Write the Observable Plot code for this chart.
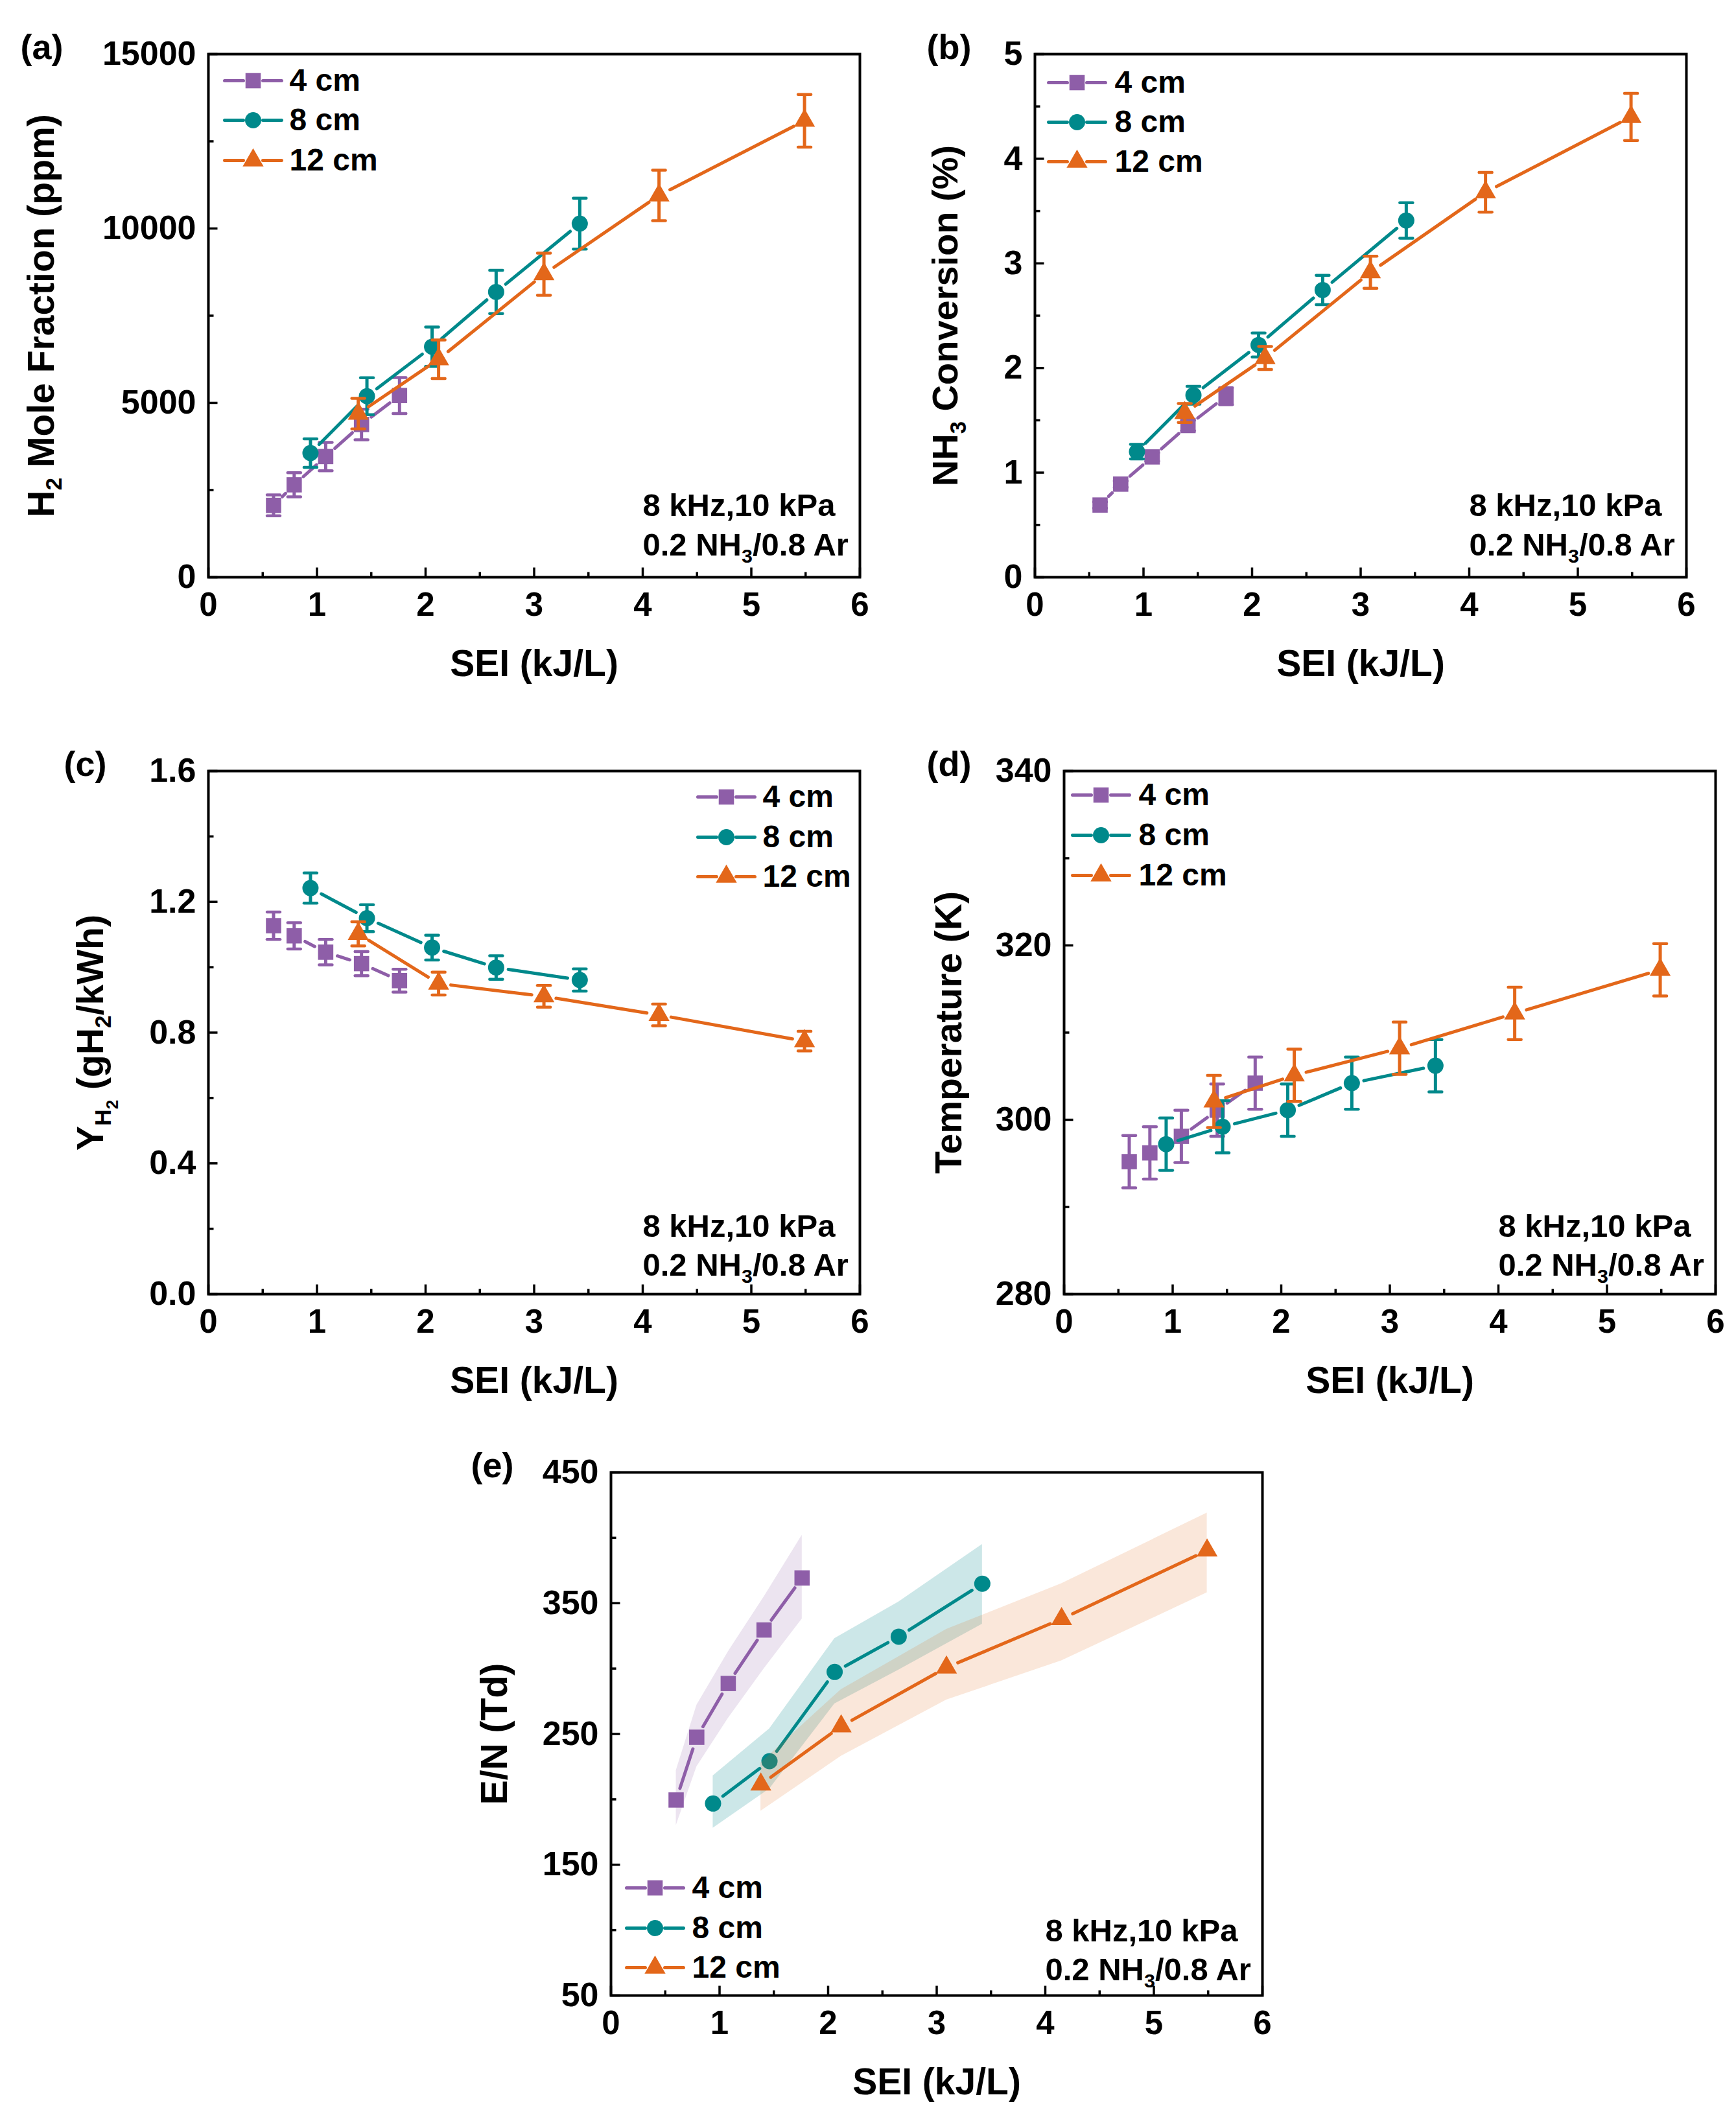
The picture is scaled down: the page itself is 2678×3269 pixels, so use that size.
<!DOCTYPE html>
<html><head><meta charset="utf-8">
<script src="https://cdn.jsdelivr.net/npm/d3@7"></script>
<script src="https://cdn.jsdelivr.net/npm/@observablehq/plot@0.6"></script>
<style>
html,body{margin:0;padding:0;background:#fff;}
#page{position:relative;width:2678px;height:3269px;overflow:hidden;background:#fff;}
#page svg{position:absolute;max-width:none;background:transparent;}
</style></head>
<body><div id="page"></div>
<script>
// ---------- data ----------
const seriesNames = ["4 cm", "8 cm", "12 cm"];
const sei4  = [0.60, 0.79, 1.08, 1.41, 1.76];
const sei8  = [0.94, 1.46, 2.06, 2.65, 3.42];
const sei12 = [1.38, 2.12, 3.09, 4.15, 5.49];

// (a) H2 mole fraction (ppm)
const h2_4  = [2060, 2650, 3460, 4380, 5210];
const h2_8  = [3560, 5190, 6610, 8180, 10140];
const h2_12 = [4690, 6250, 8690, 10950, 13090];
const h2Err4  = [300, 345, 405, 440, 515];
const h2Err8  = [410, 530, 565, 620, 730];
const h2Err12 = [440, 555, 605, 725, 755];

// (b) NH3 conversion (%)
const conv4  = [0.69, 0.89, 1.15, 1.45, 1.73];
const conv8  = [1.20, 1.74, 2.22, 2.745, 3.41];
const conv12 = [1.57, 2.095, 2.915, 3.68, 4.40];
const convErr4  = [0.03, 0.03, 0.04, 0.05, 0.08];
const convErr8  = [0.07, 0.085, 0.115, 0.14, 0.17];
const convErr12 = [0.09, 0.11, 0.153, 0.19, 0.225];

// (c) H2 yield (g/kWh)
const yld4  = [1.127, 1.096, 1.046, 1.011, 0.959];
const yld8  = [1.242, 1.150, 1.060, 0.999, 0.961];
const yld12 = [1.102, 0.950, 0.911, 0.854, 0.774];
const yldErr4  = [0.042, 0.040, 0.039, 0.037, 0.035];
const yldErr8  = [0.046, 0.041, 0.038, 0.036, 0.034];
const yldErr12 = [0.037, 0.035, 0.033, 0.033, 0.030];

// (d) Temperature (K)
const temp4  = [295.2, 296.2, 298.1, 301.1, 304.2];
const temp8  = [297.2, 299.2, 301.1, 304.2, 306.2];
const temp12 = [302.1, 305.1, 308.2, 312.2, 317.2];
const tempErr4  = [3, 3, 3, 3, 3];
const tempErr8  = [3, 3, 3, 3, 3];
const tempErr12 = [3, 3, 3, 3, 3];

// (e) E/N (Td) with shaded ranges
const en4  = [199.5, 247.5, 288.6, 329.5, 369.3];
const en8  = [196.8, 229.2, 297.4, 324.4, 364.9];
const en12 = [211.4, 255.9, 300.8, 337.9, 390.3];
const enLo4  = [180, 225, 262, 300, 338];
const enHi4  = [222, 272, 313, 355, 402];
const enLo8  = [178, 208, 273, 299, 334];
const enHi8  = [218, 254, 323, 351, 395];
const enLo12 = [191, 233, 276, 306, 358];
const enHi12 = [228, 284, 330, 365, 419];

// ticks
const xMajor = [0, 1, 2, 3, 4, 5, 6];
const xMinor = [0.5, 1.5, 2.5, 3.5, 4.5, 5.5];
const yMajorA = [0, 5000, 10000, 15000], yLabelsA = ["0", "5000", "10000", "15000"], yMinorA = [2500, 7500, 12500];
const yMajorB = [0, 1, 2, 3, 4, 5], yLabelsB = ["0", "1", "2", "3", "4", "5"], yMinorB = [0.5, 1.5, 2.5, 3.5, 4.5];
const yMajorC = [0, 0.4, 0.8, 1.2, 1.6], yLabelsC = ["0.0", "0.4", "0.8", "1.2", "1.6"], yMinorC = [0.2, 0.6, 1.0, 1.4];
const yMajorD = [280, 300, 320, 340], yLabelsD = ["280", "300", "320", "340"], yMinorD = [290, 310, 330];
const yMajorE = [50, 150, 250, 350, 450], yLabelsE = ["50", "150", "250", "350", "450"], yMinorE = [100, 200, 300, 400];

// ---------- style ----------
const COLORS = ["#8E5EA8", "#00898B", "#E3671A"];
const BANDOP = [0.17, 0.2, 0.16];
const SYMBOLS = ["square", "circle", "triangle"];
const RADII = [13.3, 12.5, 12];
const FONT = "'Liberation Sans', Arial, Helvetica, sans-serif";
const ML = 300, MR = 20, MT = 83, FW = 1005, FH = 807, MB = 175;
const GAP = 19;

function hbar(half) { return {draw(c) { c.moveTo(-half, 0); c.lineTo(half, 0); }}; }
function vUp(len) { return {draw(c) { c.moveTo(0, 0); c.lineTo(0, -len); }}; }
function hRight(len) { return {draw(c) { c.moveTo(0, 0); c.lineTo(len, 0); }}; }
const legendLine = {draw(c) { c.moveTo(-44, 0); c.lineTo(-15, 0); c.moveTo(15, 0); c.lineTo(44, 0); }};

// connecting segments, stopped short of each marker (gap measured in pixels)
function segments(xs, ys, yd) {
  const px = x => ML + x / 6 * FW, py = y => MT + (yd[1] - y) / (yd[1] - yd[0]) * FH;
  const ix = X => (X - ML) / FW * 6, iy = Y => yd[1] - (Y - MT) / FH * (yd[1] - yd[0]);
  const out = [];
  for (let i = 0; i < xs.length - 1; i++) {
    const X1 = px(xs[i]), Y1 = py(ys[i]), X2 = px(xs[i + 1]), Y2 = py(ys[i + 1]);
    const L = Math.hypot(X2 - X1, Y2 - Y1);
    if (L <= 2 * GAP + 2) continue;
    const ux = (X2 - X1) / L, uy = (Y2 - Y1) / L;
    out.push({x1: ix(X1 + ux * GAP), y1: iy(Y1 + uy * GAP), x2: ix(X2 - ux * GAP), y2: iy(Y2 - uy * GAP)});
  }
  return out;
}

function parseSub(s) {
  const out = []; let level = 0, buf = "";
  for (let i = 0; i < s.length; i++) {
    if (s[i] === "_" && s[i + 1] === "{") { if (buf) out.push({t: buf, l: level}); buf = ""; level++; i++; }
    else if (s[i] === "}") { if (buf) out.push({t: buf, l: level}); buf = ""; level--; }
    else buf += s[i];
  }
  if (buf) out.push({t: buf, l: level});
  return out;
}
function applySubs(svg) {
  const SZ = [1, 0.62, 0.46], OFF = [0, 0.22, 0.40];
  svg.querySelectorAll("text").forEach(t => {
    const s = t.textContent;
    if (!s.includes("_{")) return;
    const base = parseFloat(getComputedStyle(t).fontSize);
    t.textContent = "";
    let cur = 0;
    for (const seg of parseSub(s)) {
      const ts = document.createElementNS("http://www.w3.org/2000/svg", "tspan");
      ts.textContent = seg.t;
      ts.setAttribute("font-size", (base * SZ[seg.l]).toFixed(2));
      const off = base * OFF[seg.l];
      ts.setAttribute("dy", (off - cur).toFixed(2));
      cur = off;
      t.appendChild(ts);
    }
  });
}

function panel(cfg) {
  const yd = cfg.yd;
  const marks = [];
  cfg.series.forEach((s, k) => {
    const data = s.x.map((x, i) => ({
      x, y: s.y[i],
      lo: s.lo ? s.lo[i] : (s.e ? s.y[i] - s.e[i] : null),
      hi: s.hi ? s.hi[i] : (s.e ? s.y[i] + s.e[i] : null)
    }));
    if (s.lo) marks.push(Plot.areaY(data, {x: "x", y1: "lo", y2: "hi", fill: COLORS[k], fillOpacity: BANDOP[k]}));
    marks.push(Plot.link(segments(s.x, s.y, yd), {x1: "x1", y1: "y1", x2: "x2", y2: "y2",
      stroke: COLORS[k], strokeWidth: 5, strokeLinecap: "round"}));
    if (s.e) {
      marks.push(Plot.ruleX(data, {x: "x", y1: "lo", y2: "hi", stroke: COLORS[k], strokeWidth: 5}));
      marks.push(Plot.dot(data, {x: "x", y: "lo", symbol: hbar(10), stroke: COLORS[k], strokeWidth: 4.5, strokeLinecap: "round", fill: "none"}));
      marks.push(Plot.dot(data, {x: "x", y: "hi", symbol: hbar(10), stroke: COLORS[k], strokeWidth: 4.5, strokeLinecap: "round", fill: "none"}));
    }
    marks.push(Plot.dot(data, {x: "x", y: "y", symbol: SYMBOLS[k], r: RADII[k], fill: COLORS[k], stroke: "none"}));
  });
  // frame and inward ticks
  marks.push(Plot.frame({stroke: "black", strokeWidth: 4, fill: "none"}));
  marks.push(Plot.dot(xMajor, {x: d => d, frameAnchor: "bottom", symbol: vUp(15), stroke: "black", strokeWidth: 3.5, fill: "none"}));
  marks.push(Plot.dot(xMinor, {x: d => d, frameAnchor: "bottom", symbol: vUp(8), stroke: "black", strokeWidth: 3.5, fill: "none"}));
  marks.push(Plot.dot(cfg.yMajor, {y: d => d, frameAnchor: "left", symbol: hRight(14), stroke: "black", strokeWidth: 3.5, fill: "none"}));
  marks.push(Plot.dot(cfg.yMinor, {y: d => d, frameAnchor: "left", symbol: hRight(8), stroke: "black", strokeWidth: 3.5, fill: "none"}));
  // tick labels
  marks.push(Plot.text(xMajor, {x: d => d, frameAnchor: "bottom", dy: 43, text: d => String(d),
    lineAnchor: "middle", fontSize: 51, fontWeight: "bold", fill: "black"}));
  marks.push(Plot.text(cfg.yMajor.map((v, i) => ({v, t: cfg.yLabels[i]})), {y: "v", text: "t", frameAnchor: "left",
    dx: -19, textAnchor: "end", lineAnchor: "middle", fontSize: 52, fontWeight: "bold", fill: "black"}));
  // axis titles
  marks.push(Plot.text(["SEI (kJ/L)"], {text: d => d, frameAnchor: "bottom", dy: 134, lineAnchor: "middle",
    fontSize: 57, fontWeight: "bold", fill: "black"}));
  marks.push(Plot.text([cfg.yTitle], {text: d => d, frameAnchor: "left", dx: cfg.yTitleDx, rotate: -90,
    textAnchor: "middle", lineAnchor: "middle", fontSize: cfg.yTitleSize, fontWeight: "bold", fill: "black"}));
  marks.push(Plot.text([cfg.label], {text: d => d, frameAnchor: "top-left", dx: cfg.labelDx, dy: -10,
    textAnchor: "start", lineAnchor: "middle", fontSize: 54, fontWeight: "bold", fill: "black"}));
  // legend
  seriesNames.forEach((name, k) => {
    const ry = cfg.legend.rows[k];
    marks.push(Plot.dot([0], {frameAnchor: "top-left", dx: cfg.legend.mx, dy: ry, symbol: legendLine,
      stroke: COLORS[k], strokeWidth: 5, strokeLinecap: "round", fill: "none"}));
    marks.push(Plot.dot([0], {frameAnchor: "top-left", dx: cfg.legend.mx, dy: ry, symbol: SYMBOLS[k],
      r: RADII[k], fill: COLORS[k], stroke: "none"}));
    marks.push(Plot.text([name], {text: d => d, frameAnchor: "top-left", dx: cfg.legend.tx, dy: ry,
      textAnchor: "start", lineAnchor: "middle", fontSize: 48, fontWeight: "bold", fill: "black"}));
  });
  // annotation
  marks.push(Plot.text(["8 kHz,10 kPa"], {text: d => d, frameAnchor: "top-left", dx: 670, dy: cfg.annot[0],
    textAnchor: "start", lineAnchor: "middle", fontSize: 49, fontWeight: "bold", fill: "black"}));
  marks.push(Plot.text(["0.2 NH_{3}/0.8 Ar"], {text: d => d, frameAnchor: "top-left", dx: 670, dy: cfg.annot[1],
    textAnchor: "start", lineAnchor: "middle", fontSize: 49, fontWeight: "bold", fill: "black"}));

  const svg = Plot.plot({
    width: ML + FW + MR, height: MT + FH + MB,
    marginLeft: ML, marginRight: MR, marginTop: MT, marginBottom: MB,
    x: {domain: [0, 6], axis: null},
    y: {domain: yd, axis: null},
    style: {fontFamily: FONT, fontWeight: "bold", background: "transparent", color: "black", overflow: "visible"},
    marks
  });
  svg.style.left = cfg.left + "px";
  svg.style.top = cfg.top + "px";
  svg.style.maxWidth = "none";
  document.getElementById("page").appendChild(svg);
  applySubs(svg);
}

const mk = (x, y, e) => ({x, y, e});
panel({
  left: 321 - ML, top: 0, yd: [0, 15000],
  yMajor: yMajorA, yLabels: yLabelsA, yMinor: yMinorA,
  yTitle: "H_{2} Mole Fraction (ppm)", yTitleDx: -257, yTitleSize: 57,
  label: "(a)", labelDx: -290,
  legend: {mx: 69, tx: 125, rows: [41, 102, 164]}, annot: [697, 758],
  series: [mk(sei4, h2_4, h2Err4), mk(sei8, h2_8, h2Err8), mk(sei12, h2_12, h2Err12)]
});
panel({
  left: 1596 - ML, top: 0, yd: [0, 5],
  yMajor: yMajorB, yLabels: yLabelsB, yMinor: yMinorB,
  yTitle: "NH_{3} Conversion (%)", yTitleDx: -137, yTitleSize: 56,
  label: "(b)", labelDx: -167,
  legend: {mx: 65, tx: 123, rows: [44, 105, 166]}, annot: [697, 758],
  series: [mk(sei4, conv4, convErr4), mk(sei8, conv8, convErr8), mk(sei12, conv12, convErr12)]
});
panel({
  left: 321 - ML, top: 1106, yd: [0, 1.6],
  yMajor: yMajorC, yLabels: yLabelsC, yMinor: yMinorC,
  yTitle: "Y_{H_{2}} (gH_{2}/kWh)", yTitleDx: -181, yTitleSize: 57,
  label: "(c)", labelDx: -223,
  legend: {mx: 799, tx: 855, rows: [40, 102, 163]}, annot: [703, 763],
  series: [mk(sei4, yld4, yldErr4), mk(sei8, yld8, yldErr8), mk(sei12, yld12, yldErr12)]
});
panel({
  left: 1641 - ML, top: 1106, yd: [280, 340],
  yMajor: yMajorD, yLabels: yLabelsD, yMinor: yMinorD,
  yTitle: "Temperature (K)", yTitleDx: -177, yTitleSize: 57,
  label: "(d)", labelDx: -212,
  legend: {mx: 57, tx: 115, rows: [37, 99, 161]}, annot: [703, 763],
  series: [mk(sei4, temp4, tempErr4), mk(sei8, temp8, tempErr8), mk(sei12, temp12, tempErr12)]
});
panel({
  left: 942 - ML, top: 2188, yd: [50, 450],
  yMajor: yMajorE, yLabels: yLabelsE, yMinor: yMinorE,
  yTitle: "E/N (Td)", yTitleDx: -179, yTitleSize: 57,
  label: "(e)", labelDx: -216,
  legend: {mx: 68, tx: 125, rows: [641, 703, 764]}, annot: [708, 768],
  series: [
    {x: sei4, y: en4, lo: enLo4, hi: enHi4},
    {x: sei8, y: en8, lo: enLo8, hi: enHi8},
    {x: sei12, y: en12, lo: enLo12, hi: enHi12}
  ]
});
</script>
</body></html>
